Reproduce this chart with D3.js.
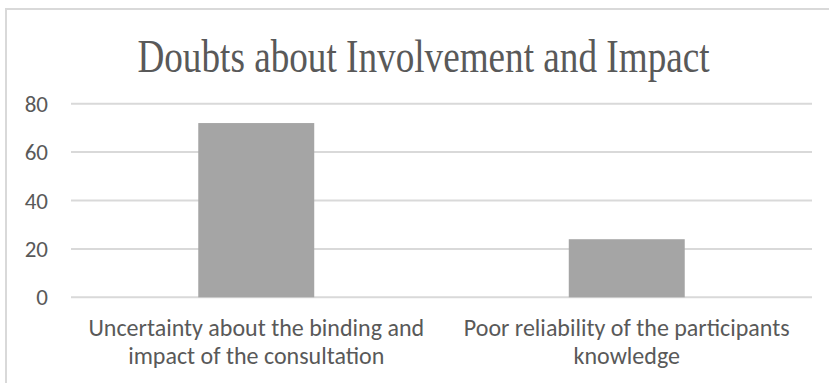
<!DOCTYPE html>
<html>
<head>
<meta charset="utf-8">
<script src="https://cdn.jsdelivr.net/npm/d3@7"></script>
<style>
  html, body { margin: 0; padding: 0; background: #fff; }
  svg { display: block; }
</style>
</head>
<body>
<svg id="chart" width="829" height="383"></svg>
<script>
// Chart data
const chartTitle = "Doubts about Involvement and Impact";
const categories = [
  ["Uncertainty about the binding and", "impact of the consultation"],
  ["Poor reliability of the participants", "knowledge"]
];
const values = [72, 24];
const yTicks = [0, 20, 40, 60, 80];

const W = 829, H = 383;
const svg = d3.select("#chart");
const textColor = "#595959";
const gridColor = "#d9d9d9";
const barColor = "#a5a5a5";
const labelFont = "Carlito, Calibri, Lato, sans-serif";

// Chart frame
svg.append("rect")
  .attr("x", 6).attr("y", 9)
  .attr("width", W + 20).attr("height", H + 20)
  .attr("fill", "#fff")
  .attr("stroke", gridColor).attr("stroke-width", 2);

const plot = { left: 71, right: 812, top: 103.7, bottom: 297.3 };

const x = d3.scaleBand()
  .domain(d3.range(categories.length))
  .range([plot.left, plot.right])
  .paddingInner(0).paddingOuter(0);

const y = d3.scaleLinear()
  .domain([0, 80])
  .range([plot.bottom, plot.top]);

// Gridlines
svg.append("g")
  .selectAll("line")
  .data(yTicks)
  .join("line")
  .attr("x1", plot.left).attr("x2", plot.right)
  .attr("y1", d => y(d)).attr("y2", d => y(d))
  .attr("stroke", gridColor).attr("stroke-width", 2);

// Y axis labels
svg.append("g")
  .selectAll("text")
  .data(yTicks)
  .join("text")
  .attr("x", 48)
  .attr("y", d => y(d))
  .attr("dy", "0.35em")
  .attr("text-anchor", "end")
  .attr("font-family", labelFont)
  .attr("font-size", 23)
  .attr("fill", textColor)
  .text(d => d);

// Bars
const barW = x.bandwidth() * 0.313;
svg.append("g")
  .selectAll("rect")
  .data(values)
  .join("rect")
  .attr("x", (d, i) => x(i) + (x.bandwidth() - barW) / 2)
  .attr("width", barW)
  .attr("y", d => y(d))
  .attr("height", d => y(0) - y(d))
  .attr("fill", barColor);

// Category labels
const cat = svg.append("g")
  .selectAll("text")
  .data(categories)
  .join("text")
  .attr("text-anchor", "middle")
  .attr("font-family", labelFont)
  .attr("font-size", 24)
  .attr("fill", textColor)
  .attr("transform", (d, i) => `translate(${x(i) + x.bandwidth() / 2},336)`);
cat.selectAll("tspan")
  .data(d => d)
  .join("tspan")
  .attr("x", 0)
  .attr("y", (d, j) => j * 27.5)
  .text(d => d);

// Title
svg.append("text")
  .attr("transform", `translate(${(plot.left + plot.right) / 2 - 18},72) scale(1,1.24)`)
  .attr("text-anchor", "middle")
  .attr("font-family", "'Liberation Serif', 'Times New Roman', serif")
  .attr("font-size", 37.2)
  .attr("fill", textColor)
  .text(chartTitle);
</script>
</body>
</html>
